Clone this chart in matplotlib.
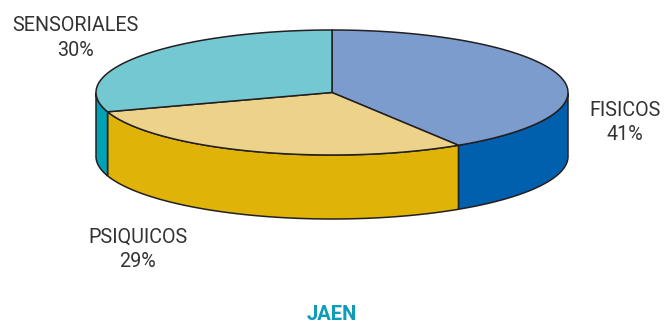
import numpy as np
import matplotlib
matplotlib.use('Agg')
import matplotlib.pyplot as plt

categorias = ['FISICOS', 'PSIQUICOS', 'SENSORIALES']
valores = [41, 29, 30]
color_top = ['#7C9CCE', '#EDD38A', '#74C8D2']
color_lado = ['#0060AE', '#DFB308', '#00A3B5']
titulo = 'JAEN'

plt.rcParams['font.family'] = ['Roboto', 'DejaVu Sans']

# Geometria de la tarta en pixeles
cx, cy = 332, 92.5
rx, ry = 236, 62.5
alto = 64
borde = '#231F20'

fig = plt.figure(figsize=(6.65, 3.25), dpi=100)
ax = fig.add_axes([0, 0, 1, 1])
ax.set_xlim(0, 665)
ax.set_ylim(325, 0)
ax.axis('off')


def punto(a):
    return cx + rx * np.cos(a), cy + ry * np.sin(a)


# Angulos desde arriba en sentido horario (y hacia abajo en pantalla)
inicio = -np.pi / 2
acum = np.cumsum([0] + valores) / sum(valores) * 2 * np.pi + inicio

for i in range(len(valores)):
    a = np.linspace(acum[i], acum[i + 1], 200)
    x, y = punto(a)

    # Lateral: solo la parte visible, delante de la tarta
    vis = a[np.sin(a) >= 0]
    if len(vis) > 0:
        xl, yl = punto(vis)
        ax.fill(np.r_[xl, xl[::-1]], np.r_[yl, yl[::-1] + alto],
                fc=color_lado[i], ec=borde, lw=1.1, zorder=2)

    # Tapa
    ax.fill(np.r_[cx, x], np.r_[cy, y], fc=color_top[i], ec=borde, lw=1.1, zorder=3)

estilo = dict(ha='center', va='center', fontsize=14.2, color='#333333', linespacing=1.36)
ax.text(75, 38, categorias[2] + '\n%d%%' % valores[2], **estilo)
ax.text(625, 122.5, categorias[0] + '\n%d%%' % valores[0], **estilo)
ax.text(138, 249.5, categorias[1] + '\n%d%%' % valores[1], **estilo)
ax.text(331.5, 314, titulo, ha='center', va='center', fontsize=14.5, color='#0E9CB8', fontweight='bold')

fig.savefig('out.png', dpi=100)
